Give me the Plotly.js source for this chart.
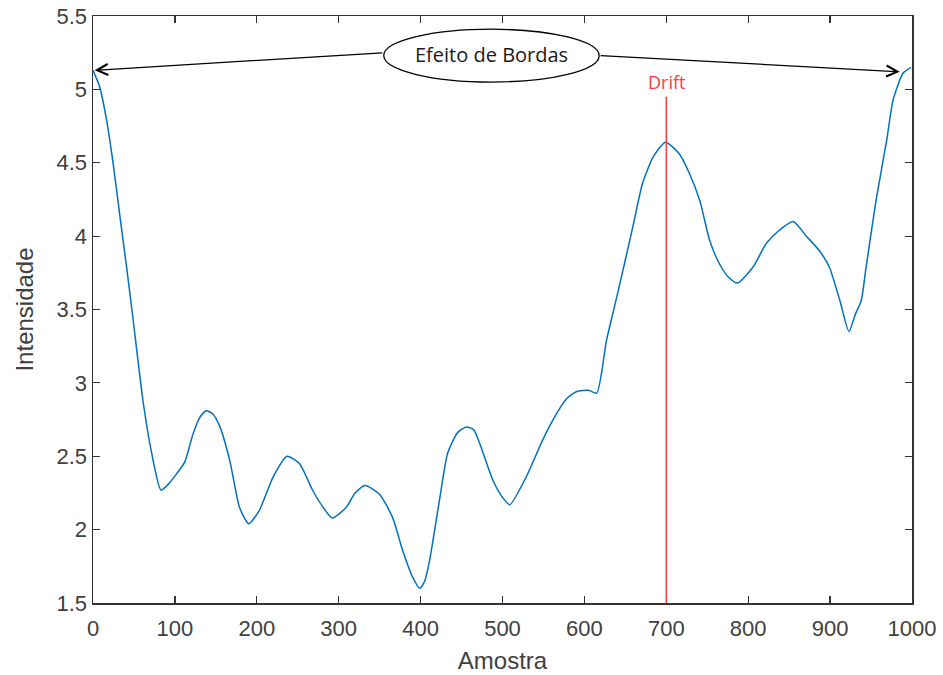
<!DOCTYPE html>
<html>
<head>
<meta charset="utf-8">
<script src="https://cdn.plot.ly/plotly-3.0.1.min.js"></script>
<style>html,body{margin:0;padding:0;background:#fff;}#chart{width:943px;height:675px;}</style>
</head>
<body>
<div id="chart"></div>
<script>
// Sample index (Amostra)
const amostra = [0, 8, 16, 24, 33, 41, 49, 61, 71, 83, 92, 102, 112, 122, 130, 138, 146, 155, 167, 179,
  190, 203, 220, 237, 252, 268, 280, 292, 309, 320, 332, 350, 366, 378, 390, 399, 405, 411, 423, 433,
  445, 456, 465, 472, 488, 500, 509, 529, 549, 566, 578, 590, 605, 615, 627, 641, 659, 671, 684, 699,
  716, 728, 741, 753, 765, 776, 787, 806, 822, 838, 855, 871, 887, 899, 912, 923, 931, 938, 944, 956,
  969, 977, 989, 999];
// Intensity (Intensidade)
const intensidade = [5.13, 5.02, 4.81, 4.52, 4.13, 3.79, 3.43, 2.88, 2.54, 2.27, 2.31, 2.38, 2.46, 2.65, 2.76, 2.81, 2.79, 2.70, 2.47, 2.15,
  2.04, 2.13, 2.36, 2.50, 2.45, 2.27, 2.16, 2.08, 2.15, 2.25, 2.30, 2.24, 2.08, 1.86, 1.68, 1.60, 1.65, 1.79, 2.20, 2.52,
  2.66, 2.70, 2.68, 2.59, 2.34, 2.22, 2.17, 2.36, 2.61, 2.79, 2.89, 2.94, 2.95, 2.93, 3.29, 3.62, 4.06, 4.36, 4.54, 4.64,
  4.56, 4.43, 4.24, 3.97, 3.81, 3.72, 3.68, 3.79, 3.95, 4.04, 4.10, 4.00, 3.90, 3.79, 3.56, 3.35, 3.47, 3.56, 3.79, 4.24,
  4.65, 4.93, 5.11, 5.15];
const xTicks = [0, 100, 200, 300, 400, 500, 600, 700, 800, 900, 1000];
const yTicks = [1.5, 2, 2.5, 3, 3.5, 4, 4.5, 5, 5.5];
const driftX = 700;
const driftTop = 4.95;
const bordaLabel = "Efeito de Bordas";
const driftLabel = "Drift";

const axisColor = '#333333';
const textColor = '#404040';

const trace = {
  x: amostra, y: intensidade, type: 'scatter', mode: 'lines',
  line: {color: '#0072BD', width: 1.5, shape: 'spline', smoothing: 0.6},
  hoverinfo: 'skip'
};

const layout = {
  width: 943, height: 675,
  margin: {l: 93, r: 31, t: 16, b: 72},
  paper_bgcolor: '#ffffff', plot_bgcolor: '#ffffff',
  showlegend: false,
  font: {family: 'Liberation Sans, Arial, sans-serif', color: textColor},
  xaxis: {
    range: [0, 1000], tickvals: xTicks, ticktext: xTicks.map(String),
    ticks: 'inside', ticklen: 7, tickwidth: 1.2, tickcolor: axisColor,
    showline: true, linecolor: axisColor, linewidth: 1.5, mirror: 'allticks',
    showgrid: false, zeroline: false, ticklabelstandoff: 5,
    tickfont: {size: 22, color: textColor},
    title: {text: 'Amostra', font: {size: 24, color: textColor}, standoff: 12}
  },
  yaxis: {
    range: [1.5, 5.5], tickvals: yTicks, ticktext: yTicks.map(String),
    ticks: 'inside', ticklen: 7, tickwidth: 1.2, tickcolor: axisColor,
    showline: true, linecolor: axisColor, linewidth: 1.5, mirror: 'allticks',
    showgrid: false, zeroline: false,
    tickfont: {size: 22, color: textColor},
    title: {text: 'Intensidade', font: {size: 24, color: textColor}, standoff: 16}
  },
  shapes: [
    {type: 'line', xref: 'x', yref: 'y', x0: driftX, x1: driftX, y0: 1.5, y1: driftTop,
     line: {color: '#ff3b3b', width: 1.5}},
    {type: 'circle', xref: 'x', yref: 'y', x0: 355, x1: 618, y0: 5.05, y1: 5.41,
     line: {color: '#000000', width: 1.3}, fillcolor: 'rgba(0,0,0,0)'}
  ],
  annotations: [
    {x: 487, y: 5.235, xref: 'x', yref: 'y', text: bordaLabel, showarrow: false,
     font: {family: 'Open Sans, Noto Sans, sans-serif', size: 20, color: '#1a1a1a'}},
    {x: driftX, y: 5.05, xref: 'x', yref: 'y', text: driftLabel, showarrow: false,
     font: {family: 'Open Sans, Noto Sans, sans-serif', size: 18, color: '#ff3b3b'}},
    {x: 2, y: 5.13, xref: 'x', yref: 'y', ax: 355, ay: 5.25, axref: 'x', ayref: 'y',
     text: '', showarrow: true, arrowhead: 5, arrowsize: 1.8, arrowwidth: 1.2, arrowcolor: '#000000', standoff: 0},
    {x: 985, y: 5.12, xref: 'x', yref: 'y', ax: 618, ay: 5.23, axref: 'x', ayref: 'y',
     text: '', showarrow: true, arrowhead: 5, arrowsize: 1.8, arrowwidth: 1.2, arrowcolor: '#000000', standoff: 0}
  ]
};

Plotly.newPlot('chart', [trace], layout, {displayModeBar: false, staticPlot: true});
</script>
</body>
</html>
